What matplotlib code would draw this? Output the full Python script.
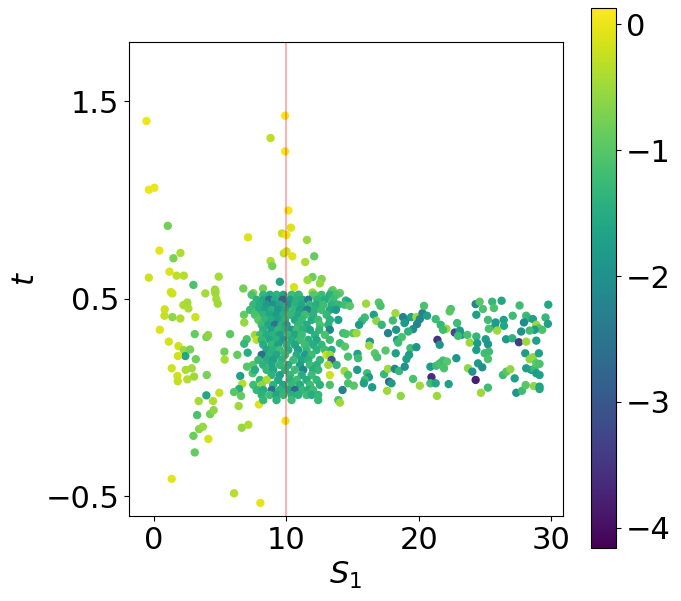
import numpy as np
import matplotlib
matplotlib.use("Agg")
import matplotlib.pyplot as plt

#####################################################################
# data: S_1, t and colour value (log scale)
#####################################################################

# sparse points, left side and upper tail
left_s1 = [-0.58, 8.8, 9.9, 9.9, -0.4, 0.02, 1.03, 0.4, 1.99, 1.46, 7.1, 9.66, 10.0, 10.15,
           9.8, 10.0, 8.8, 8.93, 1.16, 1.7, 2.24, -0.4, 4.88, 9.5, 10.34, 11.55, 10.44, 12.1,
           11.42, 11.97, 11.6, 12.66, 12.53, 10.57, 4.6, 6.74, 8.23, 13.5, 2.97, 1.26, 1.38,
           3.87, 4.63, 4.63, 4.7, 4.81, 2.21, 2.51, 2.59, 0.8, 0.78, 1.38, 1.98, 3.12, 0.43,
           1.11, 1.84, 2.24, 2.72, 2.36, 1.79, 3.15, 3.07, 3.95, 4.08, 5.74, 5.31, 5.33, 6.29,
           1.33, 2.39, 2.84, 1.76, 1.79, 2.51, 3.02, 3.98, 3.95, 3.37, 4.45, 4.93, 3.25, 4.23,
           4.5, 3.4, 3.68, 2.97, 4.1, 3.07, 1.33, 6.04, 8.03, 9.93, 6.79, 6.81, 7.0, 6.81, 7.07,
           7.02, 6.51, 6.67, 6.42, 6.04, 6.57, 6.39, 6.62, 7.12, 7.45, 7.47, 7.92, 13.41, 13.71,
           14.04, 11.97, 12.15, 10.94, 7.5]
left_t = [1.40, 1.314, 1.427, 1.246, 1.052, 1.062, 0.869, 0.744, 0.732, 0.705, 0.811, 0.831,
          0.823, 0.947, 0.73, 0.74, 0.691, 0.666, 0.637, 0.617, 0.617, 0.607, 0.612, 0.586,
          0.86, 0.798, 0.715, 0.715, 0.686, 0.61, 0.595, 0.6, 0.578, 0.559, 0.546, 0.552, 0.552,
          0.544, 0.57, 0.534, 0.527, 0.527, 0.539, 0.527, 0.498, 0.475, 0.468, 0.481, 0.451,
          0.446, 0.414, 0.407, 0.4, 0.407, 0.343, 0.283, 0.26, 0.24, 0.243, 0.21, 0.21, 0.194,
          0.321, 0.306, 0.316, 0.321, 0.232, 0.192, 0.216, 0.148, 0.14, 0.148, 0.109, 0.082,
          0.092, 0.106, 0.114, 0.011, -0.018, -0.018, 0.024, -0.089, -0.084, -0.064, -0.16,
          -0.148, -0.194, -0.21, -0.278, -0.412, -0.485, -0.534, -0.118, 0.419, 0.38, 0.295,
          0.272, 0.227, 0.156, 0.109, 0.07, 0.043, 0.028, 0.008, -0.043, -0.153, -0.138, 0.123,
          0.165, -0.035, 0.537, 0.52, 0.529, 0.532, 0.52, 0.52, 0.529]
left_c = [0.0, -0.3, 0.05, 0.05, 0.0, 0.0, -0.8, -0.05, -0.4, -0.75, -0.1, -0.25, 0.0, 0.05,
          -0.3, -0.2, -0.4, -0.8, -0.1, -0.3, -0.35, -0.2, -0.45, -1.6, -0.1, -0.5, -0.1, -0.9,
          -0.4, -0.85, -0.5, -0.7, -0.55, -0.15, -0.6, -0.8, -0.75, -0.8, -1.1, -0.15, -0.2,
          -0.45, -0.45, -0.5, -0.45, -0.5, -0.4, -0.45, -0.4, -0.2, -0.25, -0.6, -0.4, -0.2,
          -0.1, -0.15, -0.2, -0.5, -0.75, -1.6, -0.15, -0.8, -0.9, -0.75, -0.6, -0.95, -0.8,
          -0.45, -0.9, -0.2, -0.4, -0.45, -0.2, -0.25, -0.35, -0.5, -0.75, -1.6, -0.45, -0.4,
          -0.25, -1.1, -0.8, -0.6, -0.65, -0.55, -0.85, -0.15, -0.9, -0.05, -0.35, -0.05, 0.0,
          -0.9, -0.55, -1.1, -1.3, -1.5, -1.0, -1.7, -0.35, -1.5, -1.0, -0.9, -0.5, -0.55, -0.4,
          -1.1, -1.0, -0.1, -1.0, -1.2, -0.9, -0.5, -0.6, -1.0, -0.6]

# dense cluster around S_1 = 10
core_s1 = [7.37, 8.25, 8.75, 9.25, 9.76, 10.39, 10.89, 12.02, 12.65, 13.28, 13.79,
           7.75, 8.25, 8.70, 9.13, 9.71, 10.26, 10.77, 11.22, 11.65, 12.33, 12.91, 13.54,
           7.50, 8.00, 8.50, 9.00, 9.50, 10.14, 10.64, 11.15, 11.77, 12.28, 12.78, 13.41, 13.92,
           7.25, 7.88, 8.38, 8.88, 9.38, 9.89, 10.52, 11.02, 11.57, 12.15, 12.65, 13.28, 13.74,
           7.62, 8.25, 8.75, 9.25, 9.76, 10.26, 10.89, 11.40, 12.02, 13.03,
           7.88, 8.38, 8.88, 9.38, 9.89, 10.64, 11.15, 11.90, 12.40, 13.28, 13.92,
           8.13, 8.63, 9.13, 9.63, 10.01, 10.89, 11.52, 12.53, 13.16,
           8.25, 8.88, 9.38, 9.89, 10.39, 10.77, 11.27, 11.77, 12.48, 13.28,
           7.62, 8.00, 8.50, 9.00, 9.50, 10.14, 10.64, 11.15, 12.15, 12.91,
           7.75, 8.13, 8.75, 9.25, 9.76, 10.39, 11.02, 11.65, 12.28, 13.28,
           8.25, 8.88, 9.38, 10.01, 10.64, 11.40, 12.02, 12.65,
           8.50, 9.00, 9.50, 10.14, 10.89, 11.52, 12.28, 12.91, 13.41,
           8.13, 8.75, 9.25, 9.89, 10.77, 11.40, 11.90, 13.03, 13.28,
           7.88, 8.50, 9.00, 9.63, 10.52, 11.15, 11.65, 12.53, 13.41,
           8.25, 8.88, 9.50, 10.14, 11.02, 11.77, 12.28, 13.16, 13.79,
           7.62, 8.50, 9.00, 9.89, 10.64, 11.27, 12.02, 12.40,
           8.88, 9.50, 10.26, 11.15, 11.90, 13.28,
           8.00, 8.50, 9.38, 10.26, 10.77, 11.52, 12.28,
           7.50, 8.13, 9.00, 9.76, 10.39, 11.02, 11.77, 12.53, 13.28,
           7.75, 8.25, 8.88, 9.50, 10.14, 10.64, 11.22, 11.65, 12.02,
           8.13, 8.75, 9.25, 9.76, 10.39, 10.89, 11.52, 11.90, 12.40,
           8.25, 9.25, 10.39, 12.40, 13.92]
core_t = ([0.520] * 11 + [0.495] * 12 + [0.470] * 13 + [0.444] * 13 + [0.419] * 10 +
          [0.393] * 11 + [0.368] * 9 + [0.343] * 10 + [0.317] * 10 + [0.292] * 10 +
          [0.267] * 8 + [0.241] * 9 + [0.216] * 9 + [0.190] * 9 + [0.165] * 9 +
          [0.140] * 8 + [0.114] * 6 + [0.089] * 7 + [0.064] * 9 + [0.038] * 9 +
          [0.013] * 9 + [-0.013] * 5)
core_c = [-1.1, -1.3, -1.5, -1.4, -1.6, -1.2, -1.3, -1.0, -1.2, -1.4, -1.1,
          -1.4, -1.6, -2.6, -1.5, -2.8, -1.7, -1.4, -1.5, -2.4, -1.3, -1.5, -1.2,
          -1.3, -1.5, -1.8, -2.0, -1.6, -1.9, -1.4, -1.6, -1.3, -1.5, -1.2, -1.4, -1.3,
          -1.2, -1.5, -1.7, -1.4, -1.9, -1.6, -1.3, -1.7, -2.3, -1.4, -1.2, -1.6, -1.8,
          -1.1, -1.4, -1.6, -1.8, -1.5, -1.3, -1.6, -1.2, -1.4, -1.3,
          -1.0, -1.3, -1.5, -1.7, -1.4, -1.6, -1.3, -1.5, -1.2, -1.4, -1.7,
          -1.2, -1.6, -2.5, -1.4, -1.7, -1.3, -1.5, -1.1, -1.4,
          -1.4, -1.7, -1.3, -1.5, -1.8, -1.2, -1.4, -1.6, -1.3, -2.2,
          -0.5, -1.2, -1.5, -1.4, -1.7, -1.3, -1.6, -1.2, -1.4, -1.1,
          -0.3, -1.3, -1.6, -1.4, -1.8, -1.5, -1.2, -1.4, -1.6, -1.2,
          -1.5, -1.3, -1.7, -1.4, -1.6, -1.2, -1.5, -1.3,
          -1.6, -1.4, -1.2, -1.5, -1.7, -1.3, -1.4, -1.2, -1.5,
          -2.6, -1.4, -1.6, -1.3, -1.5, -1.8, -1.2, -0.2, -0.5,
          -1.3, -1.5, -1.7, -1.4, -1.2, -1.6, -1.4, -1.3, -3.0,
          -1.4, -1.6, -1.3, -1.5, -1.7, -1.2, -1.4, -0.5, -1.3,
          -1.5, -1.3, -1.6, -1.4, -1.2, -2.2, -1.5, -1.3,
          -1.4, -1.7, -1.3, -1.5, -1.2, -0.2,
          -1.3, -0.4, -1.6, -1.4, -1.2, -1.5, -1.3,
          -1.2, -0.6, -1.4, -1.6, -1.3, -1.5, -1.2, -1.4, -1.1,
          -1.3, -1.5, -2.6, -1.4, -1.6, -2.7, -1.3, -1.5, -1.2,
          -1.4, -1.2, -1.6, -1.3, -1.5, -1.4, -1.2, -1.5, -1.3,
          -1.3, -1.4, -1.2, -1.3, -1.1]

# right hand band, S_1 > 14
right_s1 = [14.49, 14.66, 14.39, 14.79, 16.02, 16.98, 17.11, 18.24, 16.6, 15.92, 15.7, 15.49,
            16.8, 17.2, 18.04, 18.81, 18.97, 19.42, 19.82, 20.28, 20.4, 20.63, 20.08, 19.87,
            19.57, 18.92, 17.68, 18.29, 18.36, 18.72, 19.2, 21.28, 22.42, 22.34, 21.66, 22.09,
            21.83, 21.41, 21.58, 22.9, 22.72, 23.1, 23.22, 22.97, 23.67, 23.85, 24.35, 25.06,
            25.23, 24.3, 24.6, 24.85, 25.55, 26.26, 25.68, 24.35, 25.23, 25.81, 25.76, 26.42,
            26.44, 27.1, 27.62, 25.3, 25.93, 26.6, 27.07, 27.57, 28.12, 27.74, 28.12, 28.25,
            27.95, 28.63, 28.88, 29.06, 29.33, 28.75, 28.38, 28.88, 29.58, 29.76, 29.79, 14.04,
            14.42, 14.29, 14.49, 15.04, 15.3, 16.3, 16.25, 24.42,
            14.66, 15.37, 15.42, 16.68, 16.86, 17.49, 18.26, 18.44, 19.37, 19.27, 19.07, 19.82,
            14.39, 14.66, 15.35, 16.1, 16.23, 15.92, 15.85, 16.48, 14.24, 14.66, 15.09, 14.04,
            17.38, 17.68, 18.19, 18.51, 18.94, 17.76, 17.94, 17.61, 18.64, 19.57, 20.08, 20.96,
            20.88, 21.33, 21.58, 21.83, 22.13, 21.91, 20.88, 21.28, 21.38, 22.26, 22.84, 23.72,
            24.05, 24.48, 24.8, 24.35, 24.98, 25.3, 25.23, 24.3, 25.23, 24.7, 26.36, 26.62,
            26.92, 27.25, 27.37, 27.8, 28.08, 28.12, 28.5, 28.75, 28.88, 29.13, 28.7, 29.13,
            29.13, 28.05, 28.38, 28.63, 28.88, 29.13, 29.08]
right_t = [0.491, 0.483, 0.47, 0.464, 0.475, 0.481, 0.464, 0.427, 0.419, 0.405, 0.388, 0.368,
           0.388, 0.368, 0.39, 0.407, 0.385, 0.407, 0.407, 0.427, 0.464, 0.414, 0.397, 0.372,
           0.346, 0.377, 0.326, 0.343, 0.292, 0.306, 0.334, 0.397, 0.448, 0.436, 0.368, 0.348,
           0.343, 0.292, 0.267, 0.377, 0.329, 0.339, 0.317, 0.312, 0.317, 0.278, 0.309, 0.295,
           0.27, 0.473, 0.485, 0.448, 0.485, 0.49, 0.453, 0.419, 0.393, 0.38, 0.359, 0.393,
           0.363, 0.414, 0.466, 0.348, 0.339, 0.295, 0.3, 0.28, 0.283, 0.334, 0.414, 0.402,
           0.38, 0.397, 0.368, 0.351, 0.343, 0.343, 0.339, 0.288, 0.405, 0.373, 0.47, 0.275,
           0.258, 0.326, 0.322, 0.326, 0.326, 0.283, 0.263, 0.275,
           0.207, 0.221, 0.199, 0.224, 0.204, 0.238, 0.224, 0.278, 0.25, 0.216, 0.195, 0.255,
           0.134, 0.114, 0.14, 0.123, 0.103, 0.089, 0.072, 0.052, 0.038, 0.072, 0.06, -0.026,
           0.118, 0.145, 0.145, 0.134, 0.156, 0.08, 0.072, 0.034, 0.008, 0.094, 0.06, 0.103,
           0.156, 0.161, 0.173, 0.187, 0.182, 0.148, 0.072, 0.072, 0.008, 0.068, 0.199, 0.148,
           0.131, 0.173, 0.153, 0.241, 0.224, 0.232, 0.195, 0.089, 0.05, 0.024, 0.114, 0.131,
           0.143, 0.097, 0.024, 0.034, 0.063, 0.148, 0.14, 0.145, 0.123, 0.114, 0.058, 0.055,
           0.043, 0.224, 0.194, 0.204, 0.174, 0.17, 0.224]
right_c = [-1.4, -1.6, -1.2, -1.0, -0.5, -1.0, -1.1, -0.5, -1.7, -1.2, -1.3, -1.8,
           -0.6, -1.3, -1.2, -2.3, -2.3, -1.7, -0.5, -2.3, -1.1, -1.7, -2.2, -2.2,
           -2.1, -1.8, -2.3, -1.9, -1.8, -1.1, -1.4, -1.2, -1.1, -1.0, -1.3, -0.5,
           -1.2, -3.5, -1.9, -1.2, -3.2, -1.8, -1.9, -1.2, -1.1, -0.5, -1.3, -1.8,
           -1.9, -2.2, -1.0, -1.1, -1.3, -1.6, -1.1, -1.7, -1.2, -1.8, -1.8, -1.7,
           -1.6, -1.2, -1.2, -1.1, -0.5, -1.8, -1.4, -3.4, -0.5, -2.0, -1.2, -1.3,
           -2.1, -1.7, -0.5, -1.0, -1.1, -1.8, -1.2, -1.7, -1.3, -1.7, -1.6, -1.2,
           -1.0, -1.2, -1.1, -1.0, -0.5, -1.9, -0.5, -1.8,
           -1.1, -1.7, -1.2, -1.0, -1.1, -1.0, -1.7, -1.2, -1.2, -1.8, -1.7, -1.9,
           -0.5, -1.1, -1.8, -1.2, -1.8, -1.2, -1.7, -1.8, -2.3, -1.1, -1.0, -0.5,
           -1.3, -0.5, -2.2, -1.3, -2.0, -2.8, -1.8, -0.5, -0.6, -1.1, -0.5, -3.6,
           -1.8, -1.2, -1.1, -1.2, -1.0, -1.1, -1.2, -1.6, -0.5, -1.7, -1.9, -0.6,
           -1.9, -1.8, -2.0, -1.8, -1.2, -1.2, -1.1, -3.8, -1.2, -0.5, -1.2, -1.0,
           -0.6, -1.7, -1.9, -1.2, -1.0, -1.8, -1.7, -1.2, -1.8, -1.7, -0.6, -1.7,
           -1.6, -1.8, -0.6, -0.6, -1.0, -1.1, -1.7]

s1 = np.array(left_s1 + core_s1 + right_s1)
t = np.array(left_t + core_t + right_t)
c = np.array(left_c + core_c + right_c)

#####################################################################
# plot
#####################################################################
plt.rcParams['font.size'] = 22

fig = plt.figure(figsize=(6.81, 6.01), dpi=100)
ax = fig.add_axes([0.1894, 0.1414, 0.6373, 0.7887])
cax = fig.add_axes([0.8678, 0.0882, 0.0367, 0.8985])

sc = ax.scatter(s1, t, c=c, s=25, cmap='viridis', vmin=-4.16, vmax=0.13)
ax.axvline(10, color='red', alpha=0.3, lw=1.5)

ax.set_xlim(-1.9, 30.9)
ax.set_ylim(-0.6, 1.8)
ax.set_xticks([0, 10, 20, 30])
ax.set_yticks([-0.5, 0.5, 1.5])
ax.set_xlabel("$S_1$")
ax.set_ylabel("$t$")

cb = fig.colorbar(sc, cax=cax)
cb.set_ticks([0, -1, -2, -3, -4])

fig.savefig("out.png", dpi=100)
